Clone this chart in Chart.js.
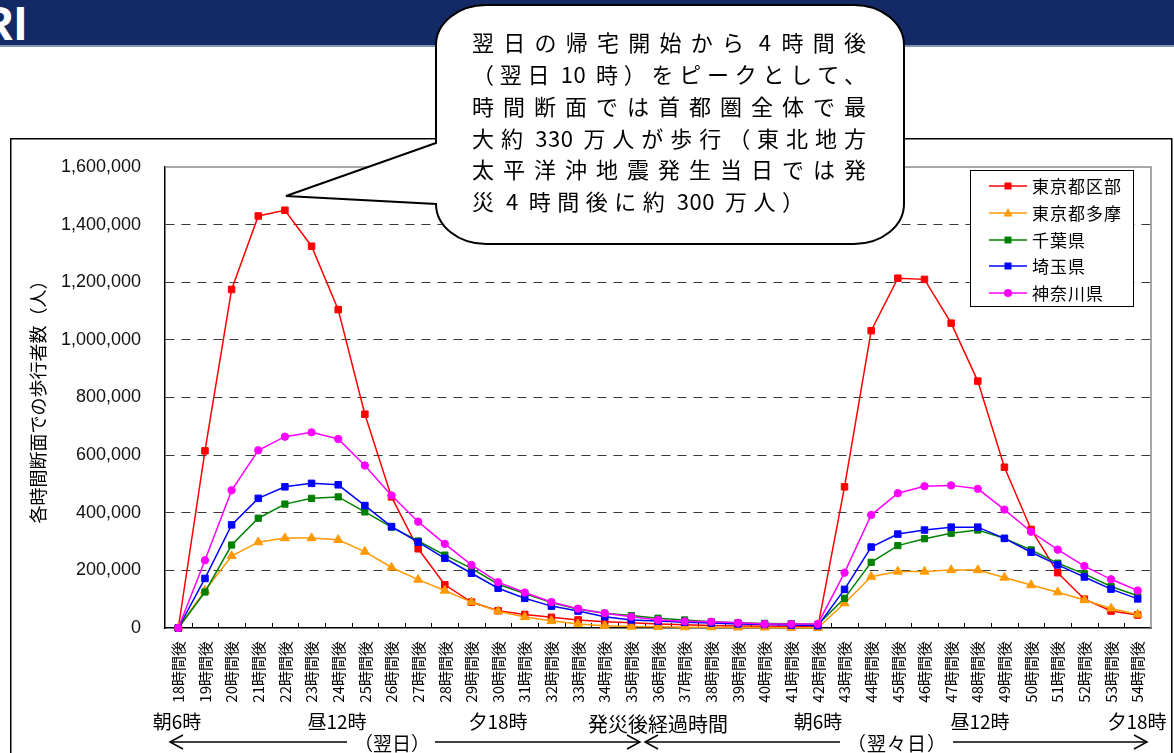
<!DOCTYPE html>
<html lang="ja">
<head>
<meta charset="utf-8">
<script src="https://cdn.jsdelivr.net/npm/chart.js@4.4.1/dist/chart.umd.min.js"></script>
<style>
  html, body { margin: 0; padding: 0; background: #fff; }
  body { width: 1174px; height: 753px; position: relative; overflow: hidden;
         font-family: "Noto Sans CJK JP", "Noto Sans", sans-serif; color: #000; }
  #bg, #overlay { position: absolute; left: 0; top: 0; }
  #bg { z-index: 0; }
  #chart { position: absolute; left: 0; top: 0; z-index: 1; }
  #overlay { z-index: 2; }
  #logo { position: absolute; left: -21px; top: 0; z-index: 1; color: #fff;
          font: bold 48px/48px "Liberation Sans", Arial, sans-serif; letter-spacing: 0; }
  .lbl { position: absolute; z-index: 3; white-space: nowrap; transform: translate(-50%, -50%);
         line-height: 1; }
  .bub { position: absolute; z-index: 3; left: 472px; white-space: nowrap; font-size: 22px;
         line-height: 32px; height: 32px; }
  .bub span { display: inline-block; white-space: pre; }
  .bub span.d { display: inline; letter-spacing: 0.5px; }
  .bub span.sp { display: inline; letter-spacing: 5px; }
  #legend { position: absolute; z-index: 3; left: 970px; top: 170px; width: 162px; height: 135px;
            border: 1.5px solid #000; background: #fff; }
  .lrow { position: absolute; left: 0; height: 24px; display: flex; align-items: center; }
  .lrow svg { margin-left: 18px; }
  .lrow span { margin-left: 5px; font-size: 17px; letter-spacing: 1px; line-height: 24px; }
</style>
</head>
<body>
<svg id="bg" width="1174" height="753">
  <rect x="0" y="0" width="1174" height="45" fill="#142a66"/>
  <rect x="0" y="45" width="1174" height="2" fill="#8692b4"/>
  <rect x="10.75" y="138.75" width="1161" height="640" fill="none" stroke="#000" stroke-width="1.5"/>
</svg>
<div id="logo">RI</div>
<canvas id="chart" width="1174" height="753"></canvas>
<svg id="overlay" width="1174" height="753">
  <!-- day span arrows under the hour axis -->
  <g stroke="#000" stroke-width="1.5" fill="none">
    <line x1="170" y1="742" x2="347" y2="742"/>
    <polyline points="183,735 170,742 183,749"/>
    <line x1="435" y1="742" x2="640" y2="742"/>
    <polyline points="627,735 640,742 627,749"/>
    <line x1="645" y1="742" x2="840" y2="742"/>
    <polyline points="658,735 645,742 658,749"/>
    <line x1="953" y1="742" x2="1147" y2="742"/>
    <polyline points="1134,735 1147,742 1134,749"/>
  </g>
  <!-- speech bubble pointing at the first peak -->
  <path d="M 486 5 H 854 A 50 40 0 0 1 904 45 V 204 A 50 40 0 0 1 854 244 H 486 A 50 40 0 0 1 436 204 L 286 196 L 436 143 V 45 A 50 40 0 0 1 486 5 Z"
        fill="#fff" stroke="#000" stroke-width="2" stroke-linejoin="miter"/>
</svg>

<div class="bub" style="top:25px"><span class="just" data-w="394">翌日の帰宅開始から<span class="d"> 4</span><span class="sp"> </span>時間後</span></div>
<div class="bub" style="top:57px"><span class="just" data-w="394">（翌日<span class="d"> 10</span><span class="sp"> </span>時）をピークとして、</span></div>
<div class="bub" style="top:89px"><span class="just" data-w="394">時間断面では首都圏全体で最</span></div>
<div class="bub" style="top:121px"><span class="just" data-w="394">大約<span class="d"> 330</span><span class="sp"> </span>万人が歩行（東北地方</span></div>
<div class="bub" style="top:152px"><span class="just" data-w="394">太平洋沖地震発生当日では発</span></div>
<div class="bub" style="top:184px"><span class="just" data-w="332">災<span class="d"> 4</span><span class="sp"> </span>時間後に約<span class="d"> 300</span><span class="sp"> </span>万人）</span></div>

<div id="legend"></div>

<div class="lbl" style="left:177px;top:720px;font-size:19px">朝6時</div>
<div class="lbl" style="left:337px;top:720px;font-size:19px">昼12時</div>
<div class="lbl" style="left:498px;top:720px;font-size:19px">夕18時</div>
<div class="lbl" style="left:658px;top:724px;font-size:20px">発災後経過時間</div>
<div class="lbl" style="left:818px;top:720px;font-size:19px">朝6時</div>
<div class="lbl" style="left:980px;top:720px;font-size:19px">昼12時</div>
<div class="lbl" style="left:1137px;top:720px;font-size:19px">夕18時</div>
<div class="lbl" style="left:392px;top:742px;font-size:19px">（翌日）</div>
<div class="lbl" style="left:897px;top:742px;font-size:19px;letter-spacing:1px">（翌々日）</div>

<script>
// Elapsed hours since the earthquake (18h = 6 a.m. the next day ... 54h = 6 p.m. two days later)
const hourLabels = [
  '18時間後','19時間後','20時間後','21時間後','22時間後','23時間後','24時間後','25時間後',
  '26時間後','27時間後','28時間後','29時間後','30時間後','31時間後','32時間後','33時間後',
  '34時間後','35時間後','36時間後','37時間後','38時間後','39時間後','40時間後','41時間後',
  '42時間後','43時間後','44時間後','45時間後','46時間後','47時間後','48時間後','49時間後',
  '50時間後','51時間後','52時間後','53時間後','54時間後'
];

// Pedestrians on the road at each hour (people)
const tokyoWards = [
  0, 615000, 1175000, 1430000, 1450000, 1325000, 1105000, 742000,
  455000, 275000, 150000, 90000, 60000, 47000, 37000, 28000,
  22000, 18000, 14000, 11000, 9000, 7000, 6000, 5000,
  4000, 490000, 1032000, 1214000, 1210000, 1058000, 857000, 558000,
  342000, 192000, 100000, 59000, 45000
];
const tokyoTama = [
  0, 130000, 250000, 298000, 312000, 312000, 306000, 265000,
  210000, 168000, 130000, 90000, 58000, 38000, 25000, 14000,
  8000, 5000, 4000, 3000, 3000, 2000, 2000, 1000,
  1000, 86000, 178000, 196000, 196000, 201000, 201000, 175000,
  149000, 124000, 97000, 68000, 47000
];
const chiba = [
  0, 125000, 288000, 381000, 430000, 450000, 455000, 403000,
  350000, 302000, 253000, 207000, 152000, 120000, 88000, 65000,
  51000, 43000, 34000, 28000, 22000, 18000, 16000, 15000,
  12000, 103000, 228000, 286000, 310000, 329000, 340000, 311000,
  271000, 225000, 188000, 144000, 112000
];
const saitama = [
  0, 172000, 358000, 450000, 490000, 502000, 497000, 425000,
  352000, 298000, 242000, 190000, 138000, 103000, 76000, 59000,
  39000, 28000, 24000, 20000, 17000, 14000, 12000, 10000,
  8000, 134000, 281000, 326000, 340000, 350000, 350000, 311000,
  263000, 219000, 177000, 135000, 101000
];
const kanagawa = [
  0, 235000, 478000, 617000, 664000, 679000, 656000, 564000,
  460000, 369000, 292000, 219000, 159000, 123000, 90000, 67000,
  51000, 39000, 28000, 23000, 22000, 18000, 14000, 14000,
  14000, 192000, 392000, 468000, 492000, 495000, 483000, 411000,
  334000, 272000, 215000, 169000, 130000
];

const seriesNames = ['東京都区部', '東京都多摩', '千葉県', '埼玉県', '神奈川県'];
const yTicks = [0, 200000, 400000, 600000, 800000, 1000000, 1200000, 1400000, 1600000];

const styles = [
  { color: '#ff0000', shape: 'rect',     r: 4.6 },
  { color: '#ff9900', shape: 'triangle', r: 5.2 },
  { color: '#008000', shape: 'rect',     r: 4.4 },
  { color: '#0000ff', shape: 'rect',     r: 4.6 },
  { color: '#ff00ff', shape: 'circle',   r: 3.7 }
];
const seriesData = [tokyoWards, tokyoTama, chiba, saitama, kanagawa];

const datasets = seriesData.map((data, i) => ({
  label: seriesNames[i],
  data,
  borderColor: styles[i].color,
  backgroundColor: styles[i].color,
  pointBackgroundColor: styles[i].color,
  pointBorderColor: styles[i].color,
  pointBorderWidth: 1,
  pointStyle: styles[i].shape,
  pointRadius: styles[i].r,
  pointHoverRadius: styles[i].r,
  borderWidth: 1.5,
  tension: 0,
  clip: false,
  order: seriesData.length - i   // later series are painted on top
}));

// gray top/right frame of the plot and short inward ticks between hours
const plotFrame = {
  id: 'plotFrame',
  beforeDatasetsDraw(chart) {
    const { ctx, chartArea: a, scales: { x } } = chart;
    ctx.save();
    ctx.strokeStyle = '#8c8c8c';
    ctx.lineWidth = 1.5;
    ctx.beginPath();
    ctx.moveTo(a.left, a.top);
    ctx.lineTo(a.right, a.top);
    ctx.lineTo(a.right, a.bottom);
    ctx.stroke();
    ctx.strokeStyle = '#000';
    ctx.lineWidth = 1;
    for (let i = 1; i < x.ticks.length; i++) {
      const px = Math.round((x.getPixelForTick(i - 1) + x.getPixelForTick(i)) / 2) + 0.5;
      ctx.beginPath();
      ctx.moveTo(px, a.bottom);
      ctx.lineTo(px, a.bottom - 5);
      ctx.stroke();
    }
    ctx.restore();
  }
};

new Chart(document.getElementById('chart'), {
  type: 'line',
  data: { labels: hourLabels, datasets },
  plugins: [plotFrame],
  options: {
    responsive: false,
    animation: false,
    devicePixelRatio: 1,
    layout: { padding: { left: 10, right: 23, top: 167, bottom: 0 } },
    plugins: { legend: { display: false }, tooltip: { enabled: false } },
    scales: {
      x: {
        type: 'category',
        offset: true,
        grid: { display: false, drawTicks: false },
        border: { display: true, color: '#000', width: 1.5 },
        ticks: {
          autoSkip: false, maxRotation: 90, minRotation: 90, padding: 13,
          color: '#000', font: { family: 'Noto Sans CJK JP', size: 15 }
        },
        afterFit(s) { s.height = 125; }
      },
      y: {
        min: yTicks[0],
        max: yTicks[yTicks.length - 1],
        afterBuildTicks(s) { s.ticks = yTicks.map(v => ({ value: v })); },
        ticks: {
          padding: 24, color: '#111',
          font: { family: 'Liberation Sans', size: 18 },
          callback: v => Number(v).toLocaleString('en-US')
        },
        grid: {
          drawTicks: false, lineWidth: 1,
          color: c => (c.tick && (c.tick.value === 0 || c.tick.value === 1600000)) ? 'rgba(0,0,0,0)' : '#3a3a3a'
        },
        border: { display: true, color: '#000', width: 1.5, dash: [9, 7] },
        title: {
          display: true, text: '各時間断面での歩行者数（人）', color: '#000',
          font: { family: 'Noto Sans CJK JP', size: 18 },
          padding: { top: 17, bottom: 0 }
        },
        afterFit(s) { s.width = 155; }
      }
    }
  }
});

// legend box in the upper right of the plot
const legend = document.getElementById('legend');
const ns = 'http://www.w3.org/2000/svg';
seriesNames.forEach((name, i) => {
  const row = document.createElement('div');
  row.className = 'lrow';
  row.style.top = (15 + i * 26.8 - 12) + 'px';
  const svg = document.createElementNS(ns, 'svg');
  svg.setAttribute('width', '38');
  svg.setAttribute('height', '14');
  const c = styles[i].color;
  let mark = '';
  if (styles[i].shape === 'rect') mark = `<rect x="15.5" y="3.5" width="7" height="7" fill="${c}"/>`;
  else if (styles[i].shape === 'triangle') mark = `<polygon points="19,2 23.5,10.5 14.5,10.5" fill="${c}"/>`;
  else mark = `<circle cx="19" cy="7" r="4" fill="${c}"/>`;
  svg.innerHTML = `<line x1="0" y1="7" x2="38" y2="7" stroke="${c}" stroke-width="1.5"/>` + mark;
  const span = document.createElement('span');
  span.textContent = name;
  row.appendChild(svg);
  row.appendChild(span);
  legend.appendChild(row);
});

// spread the kana/kanji of each bubble line across its width; numbers stay tight
function justifyBubble() {
  document.querySelectorAll('.just').forEach(el => {
    const target = Number(el.dataset.w);
    el.style.letterSpacing = '0px';
    const w0 = el.getBoundingClientRect().width;
    let nWide = 0;
    el.childNodes.forEach(node => {
      if (node.nodeType === 3) nWide += [...node.textContent].length;
    });
    el.style.letterSpacing = ((target - w0) / (nWide - 1)) + 'px';
  });
}
justifyBubble();
if (document.fonts && document.fonts.ready) document.fonts.ready.then(justifyBubble);
</script>
</body>
</html>
